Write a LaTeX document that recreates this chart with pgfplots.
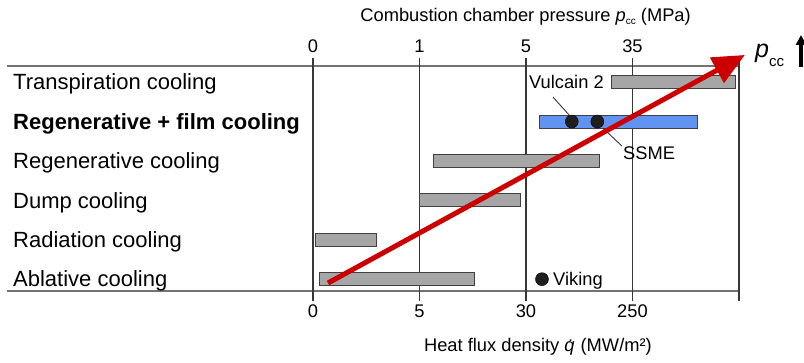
\documentclass[border=0pt]{standalone}
\usepackage{fontspec}
\setmainfont{Liberation Sans}
\usepackage{pgfplots}
\pgfplotsset{compat=1.18}
\usetikzlibrary{arrows.meta}
\definecolor{bargray}{RGB}{166,166,166}
\definecolor{barline}{RGB}{64,64,64}
\definecolor{barblue}{RGB}{97,148,242}
\definecolor{arrowred}{RGB}{204,0,0}
\definecolor{gridc}{RGB}{55,55,55}
\definecolor{framec}{RGB}{115,115,115}
\newcommand{\tickfont}{\fontsize{18.3}{22}\selectfont}
\begin{document}
\begin{tikzpicture}
\path[use as bounding box] (0,0) rectangle (804pt,362pt);
\draw[framec, line width=2pt] (7pt,296pt) -- (739pt,296pt);
\draw[framec, line width=2pt] (7pt,71pt) -- (739pt,71pt);
% top axis (pressure)
\begin{axis}[
  at={(313pt,71pt)}, anchor=south west,
  scale only axis, width=426pt, height=225pt,
  xmin=0, xmax=4, ymin=0, ymax=1,
  axis line style={draw=none},
  xtick={0,1,2,3,4}, xticklabels={0,1,5,35,},
  xtick pos=right, xticklabel pos=right,
  tick align=outside, major tick length=8pt,
  x tick style={gridc, line width=1.2pt},
  ytick=\empty,
  /pgf/number format/assume math mode=true,
  xticklabel style={inner sep=0pt, yshift=5pt, font=\tickfont},
  xlabel={Combustion chamber pressure {\itshape p}\raisebox{-2.5pt}{\fontsize{10}{12}\selectfont cc} (MPa)},
  xlabel style={at={(axis description cs:0.499,1.196)}, anchor=base, inner sep=0pt, font=\tickfont},
]
\end{axis}
% main axis (heat flux)
\begin{axis}[
  at={(313pt,71pt)}, anchor=south west,
  scale only axis, width=426pt, height=225pt,
  xmin=0, xmax=4, ymin=-0.3, ymax=5.41,
  axis line style={draw=none},
  clip=false,
  xtick={0,1,2,3,4}, xticklabels={0,5,30,250,},
  xtick pos=left,
  tick align=outside, major tick length=10pt,
  xmajorgrids, grid style={gridc, line width=1.2pt},
  x tick style={gridc, line width=1.2pt},
  ytick={0,1,2,3,4,5},
  yticklabels={Ablative cooling, Radiation cooling, Dump cooling, Regenerative cooling, \textbf{Regenerative + film cooling}, Transpiration cooling},
  y tick style={draw=none},
  yticklabel style={anchor=base west, inner sep=0pt, xshift=-290pt, yshift=-7.8pt, font=\fontsize{22}{26}\selectfont},
  /pgf/number format/assume math mode=true,
  xticklabel style={inner sep=0pt, yshift=-4pt, font=\tickfont},
  xlabel={Heat flux density \textit{\.{q}} (MW/m²)},
  xlabel style={at={(axis description cs:0.528,-0.271)}, anchor=base, inner sep=0pt, font=\tickfont},
]
% bars
\addplot[fill=bargray, draw=barline, line width=1pt] coordinates {(0.06,-0.165) (1.52,-0.165) (1.52,0.165) (0.06,0.165)} -- cycle;
\addplot[fill=bargray, draw=barline, line width=1pt] coordinates {(0.02,0.835) (0.60,0.835) (0.60,1.165) (0.02,1.165)} -- cycle;
\addplot[fill=bargray, draw=barline, line width=1pt] coordinates {(1.00,1.835) (1.95,1.835) (1.95,2.165) (1.00,2.165)} -- cycle;
\addplot[fill=bargray, draw=barline, line width=1pt] coordinates {(1.13,2.835) (2.69,2.835) (2.69,3.165) (1.13,3.165)} -- cycle;
\addplot[fill=barblue, draw=barline, line width=1pt] coordinates {(2.13,3.835) (3.61,3.835) (3.61,4.165) (2.13,4.165)} -- cycle;
\addplot[fill=bargray, draw=barline, line width=1pt] coordinates {(2.80,4.835) (3.97,4.835) (3.97,5.165) (2.80,5.165)} -- cycle;
% leader lines
\addplot[gridc, line width=0.9pt] coordinates {(2.254,4.62) (2.42,4.12)};
\addplot[gridc, line width=0.9pt] coordinates {(2.72,3.84) (2.90,3.38)};
% engines
\addplot[only marks, mark=*, mark size=6.5pt, mark options={fill=black!88, draw=black}] coordinates {(2.43,4) (2.67,4) (2.15,0)};
\node[anchor=base east, inner sep=0pt, font=\tickfont] at (axis cs:2.732,4.827) {Vulcain 2};
\node[anchor=base west, inner sep=0pt, font=\tickfont] at (axis cs:2.911,3.025) {SSME};
\node[anchor=base west, inner sep=0pt, font=\tickfont] at (axis cs:2.254,-0.148) {Viking};
% red trend arrow
\addplot[arrowred, line width=5pt, -{Triangle[length=32pt,width=28pt]}] coordinates {(0.141,-0.097) (4.056,5.69)};
\end{axis}
\node[anchor=base west, inner sep=0pt] at (755pt,304pt) {{\fontsize{25}{30}\selectfont\itshape p}\raisebox{-9pt}{\fontsize{15}{18}\selectfont cc}};
\draw[black, line width=4pt, -{Triangle[length=10pt,width=10pt]}] (801pt,295pt) -- (801pt,327pt);
\end{tikzpicture}
\end{document}
